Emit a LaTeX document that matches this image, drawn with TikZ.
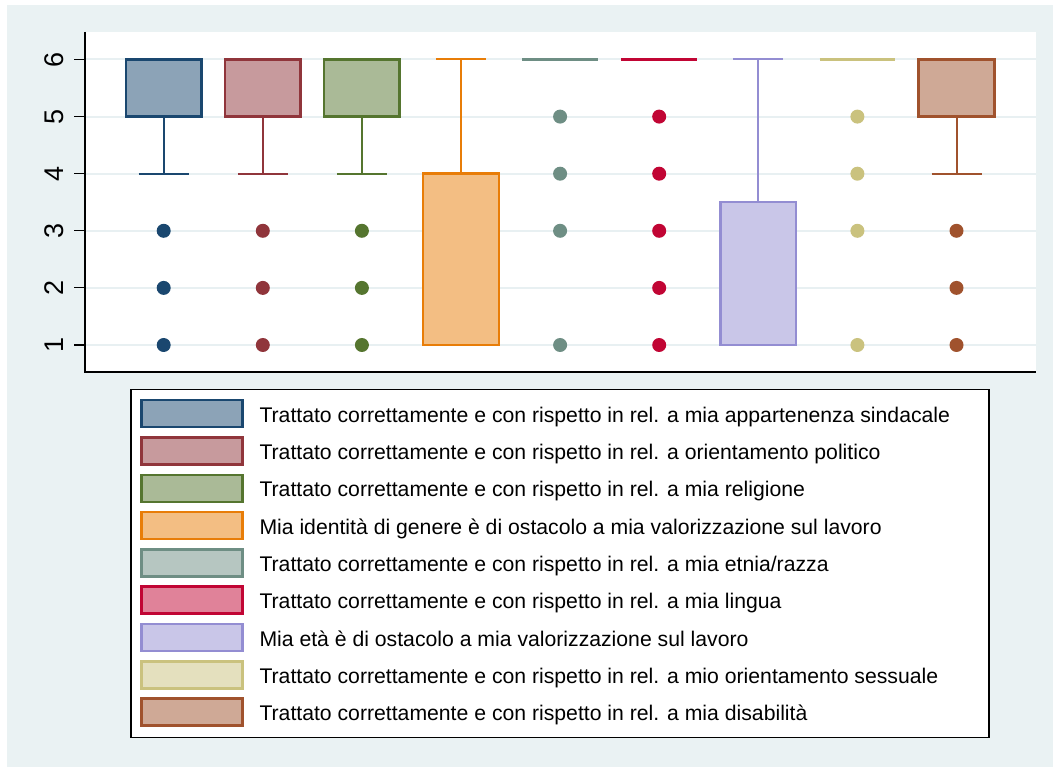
\documentclass[tikz,border=0pt]{standalone}
\usepackage{fontspec}
\setmainfont{Liberation Sans}
\definecolor{bgc}{RGB}{234,242,243}
\definecolor{gridc}{RGB}{232,240,242}
\definecolor{c1}{RGB}{26,71,111}
\definecolor{c2}{RGB}{144,53,59}
\definecolor{c3}{RGB}{85,117,47}
\definecolor{c4}{RGB}{232,125,8}
\definecolor{c5}{RGB}{110,142,132}
\definecolor{c6}{RGB}{193,5,52}
\definecolor{c7}{RGB}{147,141,210}
\definecolor{c8}{RGB}{202,194,126}
\definecolor{c9}{RGB}{160,82,45}
\newcommand\Yv[1]{402.1-57.1*#1}
\newcommand\bxp[4]{\draw[boxst=#2] ({#1-37.8},{\Yv{#3}}) rectangle ({#1+37.8},{\Yv{#4}});}
\newcommand\whk[4]{\draw[whkst=#2] (#1,{\Yv{#3}}) -- (#1,{\Yv{#4}});
  \draw[whkst=#2] ({#1-25},{\Yv{#4}}) -- ({#1+25},{\Yv{#4}});}
\newcommand\dotp[3]{\fill[#2] (#1,{\Yv{#3}}) circle (7pt);}
\newcommand\flatln[2]{\draw[#2,line width=3pt] ({#1-37.8},{\Yv{6}}) -- ({#1+37.8},{\Yv{6}});}
\begin{document}
\begin{tikzpicture}[x=1pt,y=-1pt,
  boxst/.style={draw=#1,fill=#1!50!white,line width=2.5pt},
  whkst/.style={draw=#1,line width=2pt},
  keyst/.style={draw=#1,fill=#1!50!white,line width=2.5pt,minimum width=101pt,minimum height=27pt,inner sep=0pt},
  legtext/.style={anchor=base west,font=\fontsize{21.2}{24}\selectfont,inner sep=0pt},
  ylab/.style={rotate=90,anchor=base,font=\fontsize{27}{30}\selectfont,inner sep=0pt}]
\useasboundingbox (0,0) rectangle (1053,767);
\fill[bgc] (7,5) rectangle (1053,767);
\fill[white] (85,32) rectangle (1036,372);
% gridlines, ticks, labels
\foreach \v in {1,...,6}{
  \draw[gridc,line width=2pt] (86,{\Yv{\v}}) -- (1036,{\Yv{\v}});
  \draw[black,line width=1.2pt] (74,{\Yv{\v}}) -- (85,{\Yv{\v}});
  \node[ylab] (yl\v) at (63,{\Yv{\v}}) {\v};
}
% group 1
\whk{163.7}{c1}{5}{4}\bxp{163.7}{c1}{5}{6}
\dotp{163.7}{c1}{3}\dotp{163.7}{c1}{2}\dotp{163.7}{c1}{1}
% group 2
\whk{262.8}{c2}{5}{4}\bxp{262.8}{c2}{5}{6}
\dotp{262.8}{c2}{3}\dotp{262.8}{c2}{2}\dotp{262.8}{c2}{1}
% group 3
\whk{361.9}{c3}{5}{4}\bxp{361.9}{c3}{5}{6}
\dotp{361.9}{c3}{3}\dotp{361.9}{c3}{2}\dotp{361.9}{c3}{1}
% group 4
\whk{461.0}{c4}{4}{6}\bxp{461.0}{c4}{1}{4}
% group 5
\flatln{560.1}{c5}
\dotp{560.1}{c5}{5}\dotp{560.1}{c5}{4}\dotp{560.1}{c5}{3}\dotp{560.1}{c5}{1}
% group 6
\flatln{659.2}{c6}
\dotp{659.2}{c6}{5}\dotp{659.2}{c6}{4}\dotp{659.2}{c6}{3}\dotp{659.2}{c6}{2}\dotp{659.2}{c6}{1}
% group 7
\whk{758.3}{c7}{3.5}{6}\bxp{758.3}{c7}{1}{3.5}
% group 8
\flatln{857.4}{c8}
\dotp{857.4}{c8}{5}\dotp{857.4}{c8}{4}\dotp{857.4}{c8}{3}\dotp{857.4}{c8}{1}
% group 9
\whk{956.5}{c9}{5}{4}\bxp{956.5}{c9}{5}{6}
\dotp{956.5}{c9}{3}\dotp{956.5}{c9}{2}\dotp{956.5}{c9}{1}
% axes
\draw[black,line width=1.3pt] (85,32) -- (85,372) -- (1036,372);
% legend
\draw[black,fill=white,line width=1.2pt] (131,389.3) rectangle (989,737.3);
\foreach \k/\c/\t [count=\i from 0] in {
 1/c1/{Trattato correttamente e con rispetto in rel. a mia appartenenza sindacale},
 2/c2/{Trattato correttamente e con rispetto in rel. a orientamento politico},
 3/c3/{Trattato correttamente e con rispetto in rel. a mia religione},
 4/c4/{Mia identità di genere è di ostacolo a mia valorizzazione sul lavoro},
 5/c5/{Trattato correttamente e con rispetto in rel. a mia etnia/razza},
 6/c6/{Trattato correttamente e con rispetto in rel. a mia lingua},
 7/c7/{Mia età è di ostacolo a mia valorizzazione sul lavoro},
 8/c8/{Trattato correttamente e con rispetto in rel. a mio orientamento sessuale},
 9/c9/{Trattato correttamente e con rispetto in rel. a mia disabilità}}{
  \node[keyst=\c] (key\k) at (191.9,{413.7+37.3*\i}) {};
  \node[legtext] (lab\k) at (259.3,{422.3+37.3*\i}) {\t};
}
\end{tikzpicture}
\end{document}
